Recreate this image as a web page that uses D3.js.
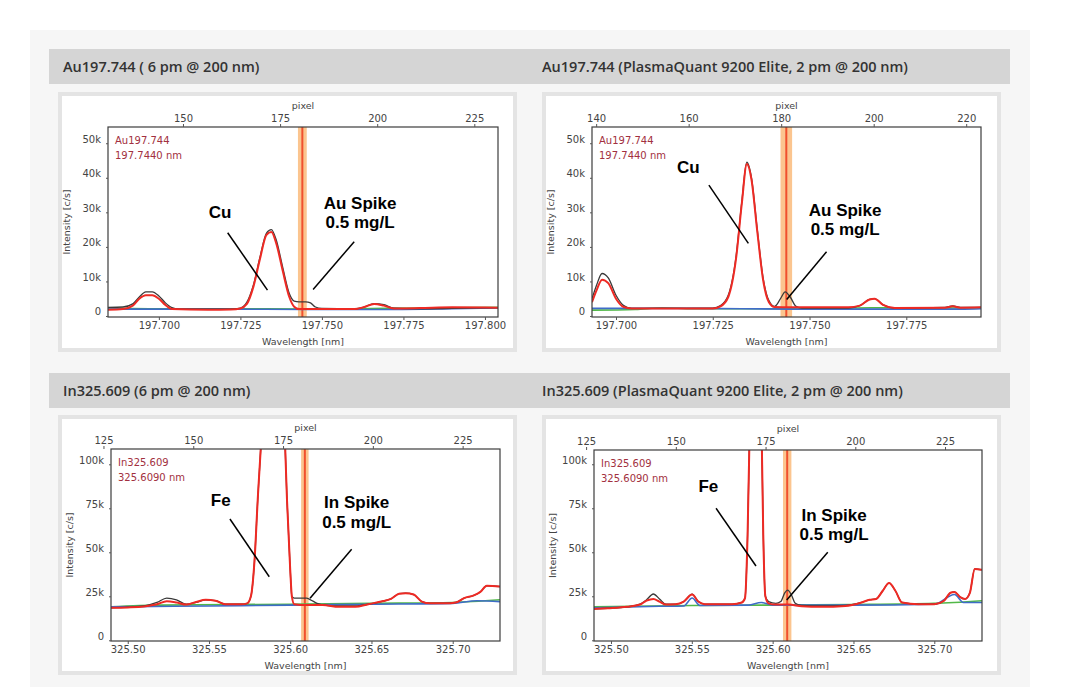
<!DOCTYPE html>
<html>
<head>
<meta charset="utf-8">
<script src="https://cdn.jsdelivr.net/npm/d3@7"></script>
<style>
  body { margin: 0; background: #fff; }
  svg { display: block; }
</style>
</head>
<body>
<script>
// ---- data: [wavelength nm, intensity k c/s] ----
var au6Black = [[197.6844,2.5],[197.689,2.6],[197.692,3.5],[197.694,5.5],[197.696,7.0],[197.698,7.0],[197.700,5.8],[197.702,3.8],[197.704,2.4],[197.706,2.0],[197.715,2.0],[197.722,2.0],[197.725,2.3],[197.727,4.0],[197.729,9],[197.731,17],[197.733,24],[197.7345,25],[197.736,22],[197.738,14],[197.740,6.5],[197.7415,4.3],[197.743,4.1],[197.745,4.1],[197.7465,3.8],[197.748,2.6],[197.750,2.2],[197.760,2.1],[197.763,2.6],[197.766,3.6],[197.769,3.3],[197.772,2.3],[197.780,2.1],[197.790,2.2],[197.804,2.4]];
var au6Red = [[197.6844,1.8],[197.689,2.0],[197.692,3.0],[197.694,5.0],[197.696,6.0],[197.698,6.0],[197.700,5.0],[197.702,3.2],[197.704,2.0],[197.715,1.8],[197.722,1.9],[197.725,2.2],[197.727,3.5],[197.729,8.5],[197.731,16.5],[197.733,23.5],[197.7345,24.3],[197.736,21],[197.738,13],[197.740,5.5],[197.7415,2.7],[197.743,2.0],[197.750,2.0],[197.760,2.0],[197.763,2.6],[197.766,3.5],[197.769,3.0],[197.772,2.2],[197.780,2.3],[197.790,2.5],[197.804,2.4]];
var au6Green = [[197.6844,2.3],[197.700,2.1],[197.720,2.1],[197.745,2.0],[197.770,2.2],[197.804,2.5]];
var au6Blue = [[197.6844,2.0],[197.720,2.0],[197.745,1.9],[197.770,1.9],[197.790,2.1],[197.804,2.3]];

var auPqBlack = [[197.6938,5],[197.695,9],[197.6964,12.3],[197.698,11],[197.700,6],[197.702,3],[197.704,2.2],[197.715,2.2],[197.725,2.3],[197.727,3],[197.729,6],[197.731,17],[197.7325,33],[197.7338,44.5],[197.735,40],[197.7365,25],[197.738,11],[197.7395,4.5],[197.741,2.8],[197.7425,5],[197.7437,7],[197.745,5.5],[197.7465,2.8],[197.748,2.3],[197.760,2.3],[197.763,3],[197.7655,4.8],[197.7668,5],[197.769,3.2],[197.772,2.3],[197.785,2.5],[197.787,2.9],[197.789,2.5],[197.7943,2.5]];
var auPqRed = [[197.6938,4],[197.695,7.5],[197.6964,10.5],[197.698,9.5],[197.700,5],[197.702,2.6],[197.704,2.2],[197.725,2.2],[197.727,2.8],[197.729,5.5],[197.731,16.5],[197.7325,32.5],[197.7338,44],[197.735,39.5],[197.7365,24.5],[197.738,10.5],[197.7395,4],[197.741,2.6],[197.745,2.5],[197.760,2.5],[197.763,3],[197.7655,4.8],[197.7668,5],[197.769,3.2],[197.772,2.3],[197.785,2.4],[197.787,2.8],[197.789,2.4],[197.7943,2.5]];
var auPqGreen = [[197.6938,1.7],[197.705,1.9],[197.712,2.4],[197.720,2.1],[197.745,2.1],[197.766,2.4],[197.790,2.3],[197.7943,2.3]];
var auPqBlue = [[197.6938,2.2],[197.720,2.2],[197.745,2.0],[197.790,2.0],[197.7943,2.1]];

var in6Black = [[325.4897,18.5],[325.500,18.8],[325.510,19.5],[325.518,21.5],[325.524,24],[325.530,23],[325.536,20.5],[325.542,21.5],[325.548,23],[325.554,22.5],[325.560,20.5],[325.570,20.5],[325.5735,21],[325.5758,25],[325.578,45],[325.580,80],[325.5825,120],[325.586,200],[325.590,250],[325.594,200],[325.5965,120],[325.598,80],[325.600,40],[325.601,25],[325.6025,24],[325.606,24],[325.610,24],[325.6125,23],[325.6165,21],[325.6205,20],[325.630,19.5],[325.640,19.5],[325.648,20.5],[325.656,22],[325.662,23.5],[325.667,26.5],[325.671,26.8],[325.676,26],[325.681,22],[325.686,21],[325.695,21],[325.702,21.5],[325.707,24],[325.713,25.5],[325.717,27.5],[325.721,31],[325.7291,30.5]];
var in6Red = [[325.4897,18.5],[325.500,18.7],[325.510,19.2],[325.518,20.5],[325.524,22.2],[325.530,21.5],[325.536,20.3],[325.542,21.8],[325.548,23],[325.554,22.5],[325.560,20.5],[325.570,20.5],[325.5735,21],[325.5758,25],[325.578,45],[325.580,80],[325.5825,120],[325.586,200],[325.590,250],[325.594,200],[325.5965,120],[325.598,80],[325.600,40],[325.601,25],[325.6025,20.5],[325.610,20],[325.620,20],[325.630,19],[325.640,19],[325.648,20.5],[325.656,22],[325.662,23.5],[325.667,26.5],[325.671,26.8],[325.676,26],[325.681,22],[325.686,21],[325.695,21],[325.702,21.5],[325.707,24],[325.713,25.5],[325.717,27.5],[325.721,31],[325.7291,30.5]];
var in6Green = [[325.4897,19],[325.520,20],[325.600,20.5],[325.650,21],[325.700,21.5],[325.7291,23]];
var in6Blue = [[325.4897,19],[325.550,19.5],[325.600,20],[325.650,20.5],[325.700,21],[325.715,22.5],[325.7291,22]];

var inPqBlack = [[325.4895,17.8],[325.498,18.2],[325.510,19],[325.518,20.5],[325.522,23],[325.5262,26.3],[325.530,23.5],[325.534,20.5],[325.540,20.5],[325.545,22],[325.5502,26.2],[325.554,22],[325.558,20.5],[325.575,20.5],[325.581,21.5],[325.5829,24],[325.5845,60],[325.586,130],[325.590,250],[325.593,130],[325.5942,60],[325.5955,25],[325.5975,22],[325.602,21],[325.605,22],[325.6075,27],[325.6093,28.5],[325.6115,26],[325.614,21],[325.618,19.8],[325.630,19.5],[325.645,19.8],[325.655,21.5],[325.660,23],[325.664,23.5],[325.668,28],[325.672,32.5],[325.676,28],[325.680,21.5],[325.690,20.5],[325.700,20.5],[325.706,22.5],[325.710,27],[325.7125,27.5],[325.716,24.5],[325.719,23.5],[325.722,27],[325.725,40.5],[325.7295,40]];
var inPqRed = [[325.4895,17.8],[325.498,18.2],[325.510,19],[325.518,20.3],[325.522,22.5],[325.5262,23.5],[325.530,22],[325.534,20.3],[325.540,20.5],[325.545,22],[325.5502,26],[325.554,22],[325.558,20.5],[325.575,20.5],[325.581,21.5],[325.5829,24],[325.5845,60],[325.586,130],[325.590,250],[325.593,130],[325.5942,60],[325.5955,25],[325.5975,21],[325.602,20.3],[325.610,20.3],[325.618,19.3],[325.630,19],[325.645,19.5],[325.655,21.5],[325.660,23],[325.664,23.5],[325.668,28],[325.672,32.5],[325.676,28],[325.680,21.5],[325.690,20.5],[325.700,20.5],[325.706,22.5],[325.710,27],[325.7125,27.5],[325.716,24.5],[325.719,23.5],[325.722,27],[325.725,40.5],[325.7295,40]];
var inPqGreen = [[325.4895,19],[325.550,19.8],[325.600,20],[325.650,20.3],[325.700,21],[325.7295,22.5]];
var inPqBlue = [[325.4895,18.5],[325.530,19.3],[325.545,19.5],[325.5502,24],[325.555,19.8],[325.585,20],[325.593,21.5],[325.600,20],[325.650,20],[325.700,20.5],[325.7125,26],[325.718,21.5],[325.7295,21.5]];

// axis tick values
var auTicksX = [197.700, 197.725, 197.750, 197.775, 197.800];
var inTicksX = [325.50, 325.55, 325.60, 325.65, 325.70];
var auTicksY = [0, 10, 20, 30, 40, 50];
var inTicksY = [0, 25, 50, 75, 100];
var auPixTicks6 = [150, 175, 200, 225];
var auPixTicksPq = [140, 160, 180, 200, 220];
var inPixTicks = [125, 150, 175, 200, 225];

var titles = ["Au197.744 ( 6 pm @ 200 nm)", "Au197.744 (PlasmaQuant 9200 Elite, 2 pm @ 200 nm)",
              "In325.609 (6 pm @ 200 nm)", "In325.609 (PlasmaQuant 9200 Elite, 2 pm @ 200 nm)"];

// ---- layout ----
var W = 1080, H = 687;
var svg = d3.select("body").append("svg").attr("width", W).attr("height", H);

svg.append("rect").attr("x", 30).attr("y", 30).attr("width", 1000).attr("height", 660).attr("fill", "#f6f6f6");

var panels = [
  {title: titles[0], hx: 49, hw: 481, tx: 14, hy: 49, fx: 58, fy: 92, box: {l: 108, r: 498, t: 127, b: 317},
   x: [197.6844, 197.8040], p: [130.7, 231.1], y: [-0.29, 54.7], xt: auTicksX, yt: auTicksY, pt: auPixTicks6, xf: ".3f",
   series: [au6Green, au6Blue, au6Black, au6Red], line: "Au197.744", nm: "197.7440 nm", center: 197.744, half: 0.00135,
   el: "Cu", elText: [197.7188, 30.2], elLine: [[197.7211, 24.1], [197.7333, 7.5]],
   spike: "Au Spike", spText: [197.7617, 32.8], spLine: [[197.7599, 21.5], [197.7473, 7.7]]},
  {title: titles[1], hx: 530, hw: 480, tx: 12, hy: 49, fx: 542, fy: 92, box: {l: 592, r: 981, t: 127, b: 317},
   x: [197.6938, 197.7943], p: [139.1, 223.2], y: [-0.29, 54.7], xt: auTicksX.slice(0, 4), yt: auTicksY, pt: auPixTicksPq, xf: ".3f",
   series: [auPqGreen, auPqBlue, auPqBlack, auPqRed], line: "Au197.744", nm: "197.7440 nm", center: 197.744, half: 0.0015,
   el: "Cu", elText: [197.7187, 43.2], elLine: [[197.7240, 37.9], [197.7342, 21.0]],
   spike: "Au Spike", spText: [197.7592, 30.7], spLine: [[197.7544, 18.6], [197.7441, 4.8]]},
  {title: titles[2], hx: 49, hw: 481, tx: 14, hy: 373, fx: 58, fy: 415, box: {l: 111, r: 500, t: 449, b: 641},
   x: [325.4897, 325.7291], p: [127.1, 235.4], y: [-0.4, 108.7], xt: inTicksX, yt: inTicksY, pt: inPixTicks, xf: ".2f",
   series: [in6Green, in6Blue, in6Black, in6Red], line: "In325.609", nm: "325.6090 nm", center: 325.609, half: 0.0023,
   el: "Fe", elText: [325.5572, 79.7], elLine: [[325.5629, 68.9], [325.5871, 36.1]],
   spike: "In Spike", spText: [325.6409, 78.4], spLine: [[325.6378, 51.7], [325.6122, 23.9]]},
  {title: titles[3], hx: 530, hw: 480, tx: 12, hy: 373, fx: 542, fy: 415, box: {l: 594, r: 982, t: 450, b: 641},
   x: [325.4895, 325.7295], p: [127.2, 235.3], y: [-0.4, 108.1], xt: inTicksX, yt: inTicksY, pt: inPixTicks, xf: ".2f",
   series: [inPqGreen, inPqBlue, inPqBlack, inPqRed], line: "In325.609", nm: "325.6090 nm", center: 325.609, half: 0.0026,
   el: "Fe", elText: [325.5602, 87.8], elLine: [[325.5650, 75.0], [325.5897, 42.2]],
   spike: "In Spike", spText: [325.6380, 71.2], spLine: [[325.6341, 50.0], [325.6087, 22.9]]}
];

var colors = ["#52b848", "#3f6cc8", "#3a3a3a", "#ee2a24"];
var widths = [1.6, 1.6, 1.3, 2];
var tickFont = "DejaVu Sans, Verdana, sans-serif";

panels.forEach(function(P, i) {
  // header band
  svg.append("rect").attr("x", P.hx).attr("y", P.hy).attr("width", P.hw).attr("height", 35)
    .attr("fill", "#d5d5d5");
  svg.append("text").attr("x", P.hx + P.tx).attr("y", P.hy + 23)
    .style("font", "600 14.5px 'Open Sans', sans-serif").attr("fill", "#333")
    .text(P.title);

  // chart frame
  svg.append("rect").attr("x", P.fx + 2).attr("y", P.fy + 2).attr("width", 455).attr("height", 256)
    .attr("fill", "#fff").attr("stroke", "#e4e4e4").attr("stroke-width", 4);

  var b = P.box;
  var x = d3.scaleLinear().domain(P.x).range([b.l, b.r]);
  var px = d3.scaleLinear().domain(P.p).range([b.l, b.r]);
  var y = d3.scaleLinear().domain(P.y).range([b.b, b.t]);

  var clipId = "clip" + i;
  svg.append("clipPath").attr("id", clipId).append("rect")
    .attr("x", b.l).attr("y", b.t).attr("width", b.r - b.l).attr("height", b.b - b.t);

  var g = svg.append("g").attr("clip-path", "url(#" + clipId + ")");

  // marker band at analyte line
  g.append("rect").attr("x", x(P.center - P.half)).attr("y", b.t)
    .attr("width", x(P.center + P.half) - x(P.center - P.half)).attr("height", b.b - b.t)
    .attr("fill", "#fbc58f");
  g.append("line").attr("x1", x(P.center)).attr("x2", x(P.center)).attr("y1", b.t).attr("y2", b.b)
    .attr("stroke", "#f0502e").attr("stroke-width", 2);

  var line = d3.line().x(function(d) { return x(d[0]); }).y(function(d) { return y(d[1]); })
    .curve(d3.curveMonotoneX);
  P.series.forEach(function(s, k) {
    g.append("path").datum(s).attr("d", line).attr("fill", "none")
      .attr("stroke", colors[k]).attr("stroke-width", widths[k]).attr("stroke-linejoin", "round");
  });

  // plot box
  svg.append("rect").attr("x", b.l).attr("y", b.t).attr("width", b.r - b.l).attr("height", b.b - b.t)
    .attr("fill", "none").attr("stroke", "#3c3c3c").attr("stroke-width", 1.2);

  // axes
  var xa = svg.append("g").attr("transform", "translate(0," + b.b + ")")
    .call(d3.axisBottom(x).tickValues(P.xt).tickFormat(d3.format(P.xf)).tickSize(3).tickPadding(2));
  var pa = svg.append("g").attr("transform", "translate(0," + b.t + ")")
    .call(d3.axisTop(px).tickValues(P.pt).tickFormat(d3.format("d")).tickSize(3).tickPadding(2));
  var ya = svg.append("g").attr("transform", "translate(" + b.l + ",0)")
    .call(d3.axisLeft(y).tickValues(P.yt).tickFormat(function(d) { return d === 0 ? "0" : d + "k"; })
      .tickSize(2).tickPadding(5));
  [xa, pa, ya].forEach(function(a) {
    a.select(".domain").remove();
    a.selectAll("line").attr("stroke", "#555");
    a.selectAll("text").style("font-family", tickFont).style("font-size", "10px").attr("fill", "#444");
  });
  ya.selectAll("text").attr("dy", "-0.1em");

  svg.append("text").attr("x", (b.l + b.r) / 2).attr("y", b.b + 28).attr("text-anchor", "middle")
    .style("font", "9.5px " + tickFont).attr("fill", "#444").text("Wavelength [nm]");
  svg.append("text").attr("x", (b.l + b.r) / 2).attr("y", b.t - 18).attr("text-anchor", "middle")
    .style("font", "9.5px " + tickFont).attr("fill", "#444").text("pixel");
  svg.append("text").attr("transform", "translate(" + (b.l - 38) + "," + ((b.t + b.b) / 2) + ") rotate(-90)")
    .attr("text-anchor", "middle")
    .style("font", "9.5px " + tickFont).attr("fill", "#444").text("Intensity [c/s]");

  // line name
  svg.append("text").attr("x", b.l + 7).attr("y", b.t + 17)
    .style("font", "10px " + tickFont).attr("fill", "#a23040").text(P.line);
  svg.append("text").attr("x", b.l + 7).attr("y", b.t + 32)
    .style("font", "10px " + tickFont).attr("fill", "#a23040").text(P.nm);

  // annotations
  var annFont = "bold 17px 'Liberation Sans', Arial, sans-serif";
  svg.append("text").attr("x", x(P.elText[0])).attr("y", y(P.elText[1])).attr("dy", "0.35em")
    .attr("text-anchor", "middle").style("font", annFont).attr("fill", "#000").text(P.el);
  svg.append("line").attr("x1", x(P.elLine[0][0])).attr("y1", y(P.elLine[0][1]))
    .attr("x2", x(P.elLine[1][0])).attr("y2", y(P.elLine[1][1]))
    .attr("stroke", "#000").attr("stroke-width", 1.5);
  var st = svg.append("text").attr("text-anchor", "middle").style("font", annFont).attr("fill", "#000");
  st.append("tspan").attr("x", x(P.spText[0])).attr("y", y(P.spText[1])).attr("dy", "0.35em").text(P.spike);
  st.append("tspan").attr("x", x(P.spText[0])).attr("y", y(P.spText[1])).attr("dy", "1.5em").text("0.5 mg/L");
  svg.append("line").attr("x1", x(P.spLine[0][0])).attr("y1", y(P.spLine[0][1]))
    .attr("x2", x(P.spLine[1][0])).attr("y2", y(P.spLine[1][1]))
    .attr("stroke", "#000").attr("stroke-width", 1.5);
});
</script>
</body>
</html>
